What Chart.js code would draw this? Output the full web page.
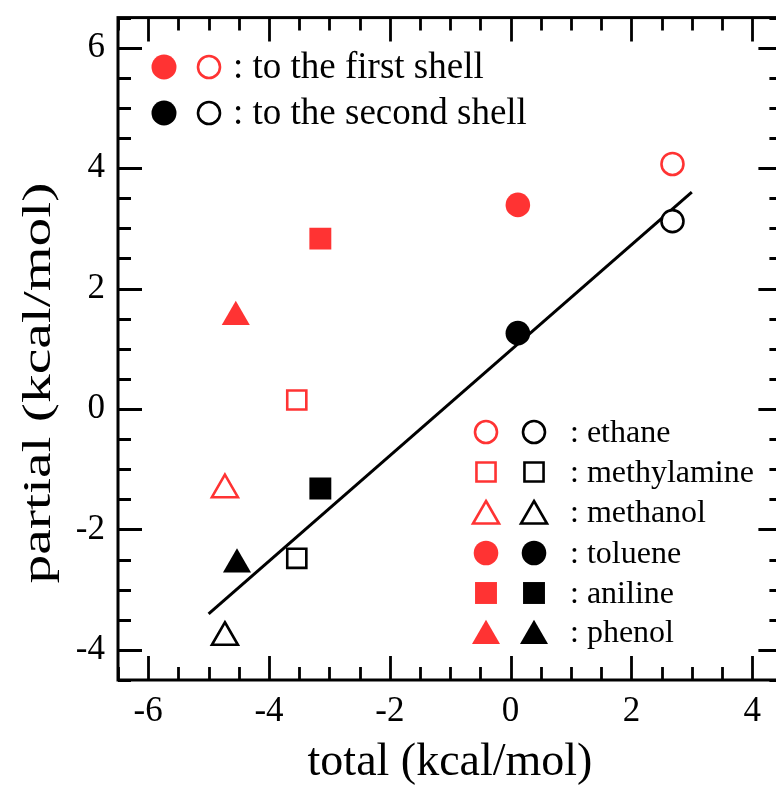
<!DOCTYPE html>
<html>
<head>
<meta charset="utf-8">
<script src="https://cdn.jsdelivr.net/npm/chart.js@4.4.0/dist/chart.umd.min.js"></script>
<style>
  html, body { margin: 0; padding: 0; background: #fff; overflow: hidden; }
  canvas { display: block; }
</style>
</head>
<body>
<canvas id="chart" width="800" height="785"></canvas>
<script>
// molecules (same order in every array below)
const molecules = ["ethane", "methylamine", "methanol", "toluene", "aniline", "phenol"];
const markerStyles = ["circle", "rect", "triangle", "circle", "rect", "triangle"];
const markerFilled = [false, false, false, true, true, true];

// total (x) vs partial (y), kcal/mol
const totalFirst = [2.68, -3.54, -4.73, 0.12, -3.15, -4.55];
const partialFirst = [4.07, 0.15, -1.34, 3.39, 2.83, 1.53];
const totalSecond = [2.68, -3.54, -4.73, 0.12, -3.15, -4.53];
const partialSecond = [3.12, -2.48, -3.79, 1.26, -1.32, -2.58];

// linear fit
const fitX = [-5, 3];
const fitY = [-3.40, 3.60];

const xTicks = [-6, -4, -2, 0, 2, 4];
const yTicks = [-4, -2, 0, 2, 4, 6];

const RED = "#ff3333";
const FONT = "'Liberation Serif', 'Times New Roman', serif";

function markerRadius(style, filled) {
  if (style === "circle") return filled ? 12.3 : 11;
  if (style === "rect") return filled ? 15.5 : 13.5;
  return filled ? 16.2 : 15;
}

function shellDataset(label, xs, ys, color) {
  return {
    label: label,
    data: xs.map((x, i) => ({ x: x, y: ys[i] })),
    pointStyle: markerStyles,
    pointRadius: markerStyles.map((s, i) => markerRadius(s, markerFilled[i])),
    backgroundColor: markerFilled.map(f => (f ? color : "#ffffff")),
    borderColor: color,
    borderWidth: markerFilled.map(f => (f ? 0 : 2.6)),
    showLine: false,
    order: 0
  };
}

// frame, inward ticks, legends and axis titles
const decorations = {
  id: "decorations",
  afterDraw(chart) {
    const ctx = chart.ctx;
    const area = chart.chartArea;
    const xs = chart.scales.x;
    const ys = chart.scales.y;
    ctx.save();
    ctx.strokeStyle = "#000";
    ctx.lineWidth = 3;
    ctx.strokeRect(area.left, area.top, area.right - area.left, area.bottom - area.top);

    // ticks every 0.5, major ones on the labelled values
    ctx.lineWidth = 2.8;
    ctx.beginPath();
    for (let v = xs.min; v <= xs.max + 1e-9; v += 0.5) {
      const px = Math.round(xs.getPixelForValue(v)) + 0.5;
      const len = xTicks.includes(v) ? 24 : 13;
      ctx.moveTo(px, area.bottom); ctx.lineTo(px, area.bottom - len);
      ctx.moveTo(px, area.top); ctx.lineTo(px, area.top + len);
    }
    for (let v = ys.min; v <= ys.max + 1e-9; v += 0.5) {
      const py = Math.round(ys.getPixelForValue(v)) + 0.5;
      const len = yTicks.includes(v) ? 24 : 13;
      ctx.moveTo(area.left, py); ctx.lineTo(area.left + len, py);
      ctx.moveTo(area.right, py); ctx.lineTo(area.right - len, py);
    }
    ctx.stroke();

    const drawMark = (style, filled, color, x, y, r) => {
      ctx.fillStyle = filled ? color : "#ffffff";
      ctx.strokeStyle = color;
      ctx.lineWidth = filled ? 0 : 2.6;
      Chart.helpers.drawPoint(ctx, { pointStyle: style, radius: r, borderWidth: filled ? 0 : 2.6, rotation: 0 }, x, y);
    };

    // top-left legend
    ctx.textAlign = "left";
    ctx.textBaseline = "alphabetic";
    const shellRows = [
      { color: RED, text: ": to the first shell", y: 67 },
      { color: "#000", text: ": to the second shell", y: 113 }
    ];
    shellRows.forEach(row => {
      drawMark("circle", true, row.color, 164, row.y, 12.5);
      drawMark("circle", false, row.color, 209, row.y, 11);
      ctx.fillStyle = "#000";
      ctx.font = "37px " + FONT;
      ctx.fillText(row.text, 233, row.y + 11);
    });

    // molecule legend
    const rowY = [432, 472, 512, 553, 593, 632];
    molecules.forEach((name, m) => {
      const style = markerStyles[m];
      const filled = markerFilled[m];
      const r = markerRadius(style, filled);
      const dy = style === "triangle" ? 4 : 0;
      drawMark(style, filled, RED, 486, rowY[m] + dy, r);
      drawMark(style, filled, "#000", 534, rowY[m] + dy, r);
      ctx.fillStyle = "#000";
      ctx.font = "32px " + FONT;
      ctx.fillText(": " + name, 570, rowY[m] + 10);
    });

    // axis titles
    ctx.fillStyle = "#000";
    ctx.textAlign = "center";
    ctx.font = "46px " + FONT;
    ctx.fillText("total (kcal/mol)", 450, 775);

    ctx.font = "40px " + FONT;
    const yTitle = "partial (kcal/mol)";
    const w = ctx.measureText(yTitle).width;
    ctx.translate(50, 383);
    ctx.rotate(-Math.PI / 2);
    ctx.scale(401 / w, 1);
    ctx.fillText(yTitle, 0, 0);
    ctx.restore();
  }
};

new Chart(document.getElementById("chart"), {
  type: "scatter",
  data: {
    datasets: [
      shellDataset("to the first shell", totalFirst, partialFirst, RED),
      shellDataset("to the second shell", totalSecond, partialSecond, "#000"),
      {
        label: "fit",
        type: "line",
        data: fitX.map((x, i) => ({ x: x, y: fitY[i] })),
        borderColor: "#000",
        borderWidth: 3,
        pointRadius: 0,
        fill: false,
        order: 2
      }
    ]
  },
  options: {
    responsive: false,
    animation: false,
    events: [],
    layout: { padding: { left: 0, top: 14, right: 15, bottom: 0 } },
    plugins: {
      legend: { display: false },
      tooltip: { enabled: false }
    },
    scales: {
      x: {
        type: "linear",
        min: -6.5,
        max: 4.5,
        afterBuildTicks: s => { s.ticks = xTicks.map(v => ({ value: v })); },
        afterFit: s => { s.height = 105; s.paddingLeft = 0; s.paddingRight = 0; },
        grid: { display: false, drawTicks: false },
        border: { display: false },
        ticks: { color: "#000", padding: 11, font: { family: FONT, size: 35 } }
      },
      y: {
        type: "linear",
        min: -4.5,
        max: 6.5,
        afterBuildTicks: s => { s.ticks = yTicks.map(v => ({ value: v })); },
        afterFit: s => { s.width = 118; s.paddingTop = 0; s.paddingBottom = 0; },
        grid: { display: false, drawTicks: false },
        border: { display: false },
        ticks: { color: "#000", padding: 13, font: { family: FONT, size: 35 } }
      }
    }
  },
  plugins: [decorations]
});
</script>
</body>
</html>
